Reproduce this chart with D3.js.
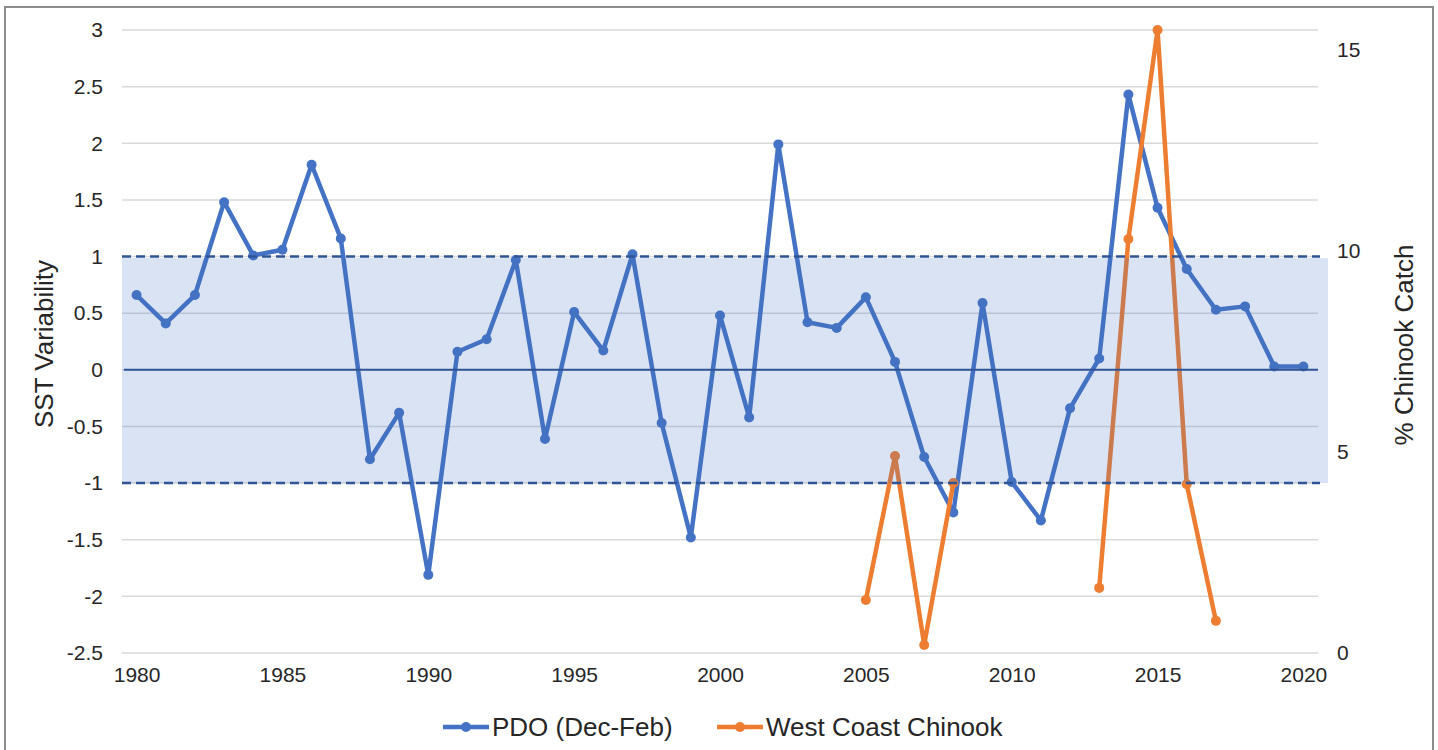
<!DOCTYPE html>
<html>
<head>
<meta charset="utf-8">
<script src="https://cdn.jsdelivr.net/npm/d3@7"></script>
<style>
body { margin: 0; background: #fff; font-family: "Liberation Sans", Arial, sans-serif; }
.tick text { fill: #262626; }
</style>
</head>
<body>
<script>
// PDO winter index, 1980-2020
var years = d3.range(1980, 2021);
var pdo = [0.66, 0.41, 0.66, 1.48, 1.01, 1.06, 1.81, 1.16, -0.79, -0.38,
    -1.81, 0.16, 0.27, 0.97, -0.61, 0.51, 0.17, 1.02, -0.47, -1.48,
    0.48, -0.42, 1.99, 0.42, 0.37, 0.64, 0.07, -0.77, -1.26, 0.59,
    -0.99, -1.33, -0.34, 0.10, 2.43, 1.43, 0.89, 0.53, 0.56, 0.03, 0.03];
// % chinook catch, gaps where no data
var chinookYears = [2005, 2006, 2007, 2008, 2009, 2010, 2011, 2012, 2013, 2014, 2015, 2016, 2017];
var chinook = [1.32, 4.9, 0.2, 4.23, null, null, null, null, 1.62, 10.3, 15.5, 4.2, 0.8];

var leftTicks = [-2.5, -2, -1.5, -1, -0.5, 0, 0.5, 1, 1.5, 2, 2.5, 3];
var rightTicks = [0, 5, 10, 15];
var xTicks = [1980, 1985, 1990, 1995, 2000, 2005, 2010, 2015, 2020];
var bandLimits = [-1, 1];

var width = 1438;
var height = 750;
var blue = "#4472C4";
var orange = "#ED7D31";
var dark = "#2F5597";

var svg = d3.select("body").append("svg").attr("width", width).attr("height", height);

// outer frame
svg.append("rect").attr("x", 5).attr("y", 7).attr("width", 1428).attr("height", 760)
    .attr("fill", "none").attr("stroke", "#8c8c8c").attr("stroke-width", 2);

var x = d3.scaleLinear().domain([1979.5, 2020.5]).range([122, 1318]);
var yL = d3.scaleLinear().domain([-2.5, 3]).range([653, 30]);
var yR = d3.scaleLinear().domain([0, 15.5]).range([653, 30]);

// gridlines
svg.append("g").selectAll("line").data(leftTicks).enter().append("line")
    .attr("x1", x.range()[0]).attr("x2", x.range()[1])
    .attr("y1", function (d) { return yL(d); }).attr("y2", function (d) { return yL(d); })
    .attr("stroke", "#d9d9d9").attr("stroke-width", 1.5);

// axes
var leftAxis = d3.axisLeft(yL).tickValues(leftTicks).tickSize(0).tickPadding(19)
    .tickFormat(function (d) { return String(d); });
var rightAxis = d3.axisRight(yR).tickValues(rightTicks).tickSize(0).tickPadding(19);
var bottomAxis = d3.axisBottom(x).tickValues(xTicks).tickSize(0).tickPadding(14).tickFormat(d3.format("d"));

svg.append("g").attr("transform", "translate(" + x.range()[0] + ",0)").call(leftAxis);
svg.append("g").attr("transform", "translate(" + x.range()[1] + ",0)").call(rightAxis);
svg.append("g").attr("transform", "translate(0," + yL.range()[0] + ")").call(bottomAxis);
svg.selectAll(".domain").remove();
svg.selectAll(".tick text").attr("font-size", 21).attr("font-family", "Liberation Sans, Arial, sans-serif");

// series
var pdoData = years.map(function (yr, i) { return [yr, pdo[i]]; });
var chinookData = chinookYears.map(function (yr, i) { return [yr, chinook[i]]; });

var pdoLine = d3.line().x(function (d) { return x(d[0]); }).y(function (d) { return yL(d[1]); });
var chinookLine = d3.line().defined(function (d) { return d[1] !== null; })
    .x(function (d) { return x(d[0]); }).y(function (d) { return yR(d[1]); });

svg.append("path").datum(pdoData).attr("d", pdoLine).attr("fill", "none")
    .attr("stroke", blue).attr("stroke-width", 4.5).attr("stroke-linejoin", "round");
svg.append("g").selectAll("circle").data(pdoData).enter().append("circle")
    .attr("cx", function (d) { return x(d[0]); }).attr("cy", function (d) { return yL(d[1]); })
    .attr("r", 5).attr("fill", blue);

svg.append("path").datum(chinookData).attr("d", chinookLine).attr("fill", "none")
    .attr("stroke", orange).attr("stroke-width", 4.5).attr("stroke-linejoin", "round");
svg.append("g").selectAll("circle").data(chinookData.filter(function (d) { return d[1] !== null; }))
    .enter().append("circle")
    .attr("cx", function (d) { return x(d[0]); }).attr("cy", function (d) { return yR(d[1]); })
    .attr("r", 5).attr("fill", orange);

// shaded +/-1 band, drawn over the series
svg.append("rect").attr("x", x.range()[0]).attr("y", yL(bandLimits[1]) + 1.5)
    .attr("width", x.range()[1] - x.range()[0] + 10)
    .attr("height", yL(bandLimits[0]) - yL(bandLimits[1]) - 1.5)
    .attr("fill", blue).attr("fill-opacity", 0.2);

// zero line and dashed limits
svg.append("line").attr("x1", x.range()[0] + 2).attr("x2", x.range()[1])
    .attr("y1", yL(0)).attr("y2", yL(0)).attr("stroke", dark).attr("stroke-width", 2);
svg.append("g").selectAll("line").data(bandLimits).enter().append("line")
    .attr("x1", x.range()[0]).attr("x2", x.range()[1] + 2)
    .attr("y1", function (d) { return yL(d); }).attr("y2", function (d) { return yL(d); })
    .attr("stroke", dark).attr("stroke-width", 2.5).attr("stroke-dasharray", "9,5");

// axis titles
svg.append("text").attr("transform", "translate(53,344) rotate(-90)")
    .attr("text-anchor", "middle").attr("font-size", 26).attr("fill", "#262626")
    .text("SST Variability");
svg.append("text").attr("transform", "translate(1413,345) rotate(-90)")
    .attr("text-anchor", "middle").attr("font-size", 26).attr("fill", "#262626")
    .text("% Chinook Catch");

// legend
var legendItems = [
    { name: "PDO (Dec-Feb)", color: blue, x: 443 },
    { name: "West Coast Chinook", color: orange, x: 717 }
];
var lg = svg.append("g").selectAll("g").data(legendItems).enter().append("g")
    .attr("transform", function (d) { return "translate(" + d.x + ",727)"; });
lg.append("line").attr("x1", 0).attr("x2", 46).attr("y1", 0).attr("y2", 0)
    .attr("stroke", function (d) { return d.color; }).attr("stroke-width", 4.5);
lg.append("circle").attr("cx", 23).attr("cy", 0).attr("r", 5).attr("fill", function (d) { return d.color; });
lg.append("text").attr("x", 49).attr("y", 9).attr("font-size", 26).attr("fill", "#262626")
    .text(function (d) { return d.name; });
</script>
</body>
</html>
